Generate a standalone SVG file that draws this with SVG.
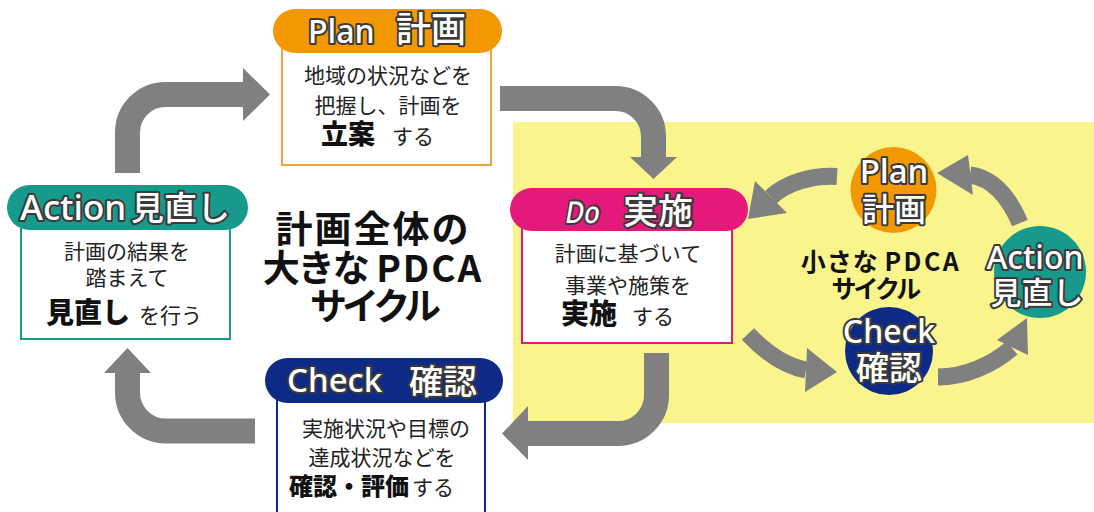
<svg xmlns="http://www.w3.org/2000/svg" width="1094" height="512" viewBox="0 0 1094 512">
<style>
.arrow{fill:none;stroke:#808080;stroke-width:25}
.sarrow{fill:none;stroke:#808080;stroke-width:17}
.head{fill:#808080}
.ol{font-family:"Noto Sans","Noto Sans CJK JP",sans-serif;font-weight:500;fill:#fff;stroke:#3a3a3a;stroke-width:4;paint-order:stroke;stroke-linejoin:round}
.olc{font-family:"Noto Sans CJK JP",sans-serif;font-weight:500;fill:#fff;stroke:#3a3a3a;stroke-width:4;paint-order:stroke;stroke-linejoin:round}
.tx{font-family:"Noto Sans CJK JP",sans-serif;font-size:21px;fill:#222}
.b{font-family:"Noto Sans CJK JP",sans-serif;font-weight:900;fill:#111}
.title{font-family:"Noto Sans CJK JP",sans-serif;font-weight:bold;fill:#111;text-anchor:middle}
.box{fill:#fff;stroke-width:2}
</style>
<rect x="513" y="122" width="581" height="301" fill="#FAF48C"/>
<g id="connectors">
<path class="arrow" d="M127.5,173 V132.5 A38,38 0 0 1 165.5,94.5 H245"/>
<polygon class="head" points="243,68 270,94.5 243,121"/>
<path class="arrow" d="M500,98.5 H615.5 A38,38 0 0 1 653.5,136.5 V158"/>
<polygon class="head" points="630,157 677,157 653.5,179"/>
<path class="arrow" d="M656.5,353 V395 A38.5,38.5 0 0 1 618,433.5 H528"/>
<polygon class="head" points="528,406 502,433.5 528,460"/>
<path class="arrow" d="M255,431 H166 A38.5,38.5 0 0 1 127.5,392.5 V372"/>
<polygon class="head" points="104,373 151,373 127.5,348"/>
<path class="sarrow" d="M837,176.5 C812,175 786,183 771,197"/>
<polygon class="head" points="755,181 787,213 748,219"/>
<path class="sarrow" d="M1020,223 C1008,195 992,178 970,175"/>
<polygon class="head" points="968,155 973,195 937,173"/>
<path class="sarrow" d="M748,334 C765,352 785,366 806,370"/>
<polygon class="head" points="807,348 805,392 837,372"/>
<path class="sarrow" d="M938,377 C965,377 992,365 1012,348"/>
<polygon class="head" points="997,340 1028,355 1027,318"/>
</g>
<g id="plan">
<rect class="box" x="282" y="30" width="209" height="135" stroke="#F0A23C"/>
<rect x="273" y="9" width="229" height="44" rx="22" fill="#F39800"/>
<text class="ol" x="308" y="43" font-size="32">Plan</text>
<text class="olc" x="396" y="42" font-size="35">計画</text>
<text class="tx" x="388" y="83" text-anchor="middle">地域の状況などを</text>
<text class="tx" x="388" y="113" text-anchor="middle">把握し、計画を</text>
<text class="b" x="321" y="144" font-size="27">立案</text>
<text class="tx" x="392" y="144" font-size="20">する</text>
</g>
<g id="action">
<rect class="box" x="21" y="207" width="209" height="132" stroke="#17998C"/>
<rect x="7" y="185" width="241" height="45" rx="22.5" fill="#17998C"/>
<text class="ol" x="20" y="220" font-size="35">Action</text>
<text class="olc" x="131" y="220" font-size="33">見直し</text>
<text class="tx" x="127" y="259" text-anchor="middle">計画の結果を</text>
<text class="tx" x="127" y="285" text-anchor="middle">踏まえて</text>
<text class="b" x="46" y="323" font-size="28">見直し</text>
<text class="tx" x="139" y="323" font-size="20">を行う</text>
</g>
<g id="do">
<rect class="box" x="522" y="210" width="210" height="133" stroke="#E5187C"/>
<rect x="510" y="188" width="238" height="43" rx="21.5" fill="#E5187C"/>
<text class="ol" x="0" y="0" font-size="30" transform="translate(564,223) skewX(-10) scale(0.85,1)">Do</text>
<text class="olc" x="623" y="224" font-size="35">実施</text>
<text class="tx" x="628" y="261" text-anchor="middle">計画に基づいて</text>
<text class="tx" x="628" y="293" text-anchor="middle">事業や施策を</text>
<text class="b" x="561" y="324" font-size="28">実施</text>
<text class="tx" x="632" y="324" font-size="20">する</text>
</g>
<g id="check">
<rect class="box" x="277" y="380" width="208" height="140" stroke="#0E2A87"/>
<rect x="265" y="358" width="238" height="45" rx="22.5" fill="#0E2A87"/>
<text class="ol" x="287" y="392" font-size="33">Check</text>
<text class="olc" x="409" y="394" font-size="34">確認</text>
<text class="tx" x="386" y="436" text-anchor="middle" font-size="22">実施状況や目標の</text>
<text class="tx" x="382" y="465" text-anchor="middle" font-size="22">達成状況などを</text>
<text class="b" x="289" y="495" font-size="24">確認・評価</text>
<text class="tx" x="412" y="495" font-size="20">する</text>
</g>
<g id="big-title">
<text class="title" x="373" y="243" font-size="37" letter-spacing="2">計画全体の</text>
<text class="title" x="373" y="282" font-size="37"><tspan letter-spacing="-2">大きな</tspan> <tspan letter-spacing="2">PDCA</tspan></text>
<text class="title" x="373" y="320" font-size="37" letter-spacing="-5">サイクル</text>
</g>
<g id="small-plan">
<circle cx="893.5" cy="190" r="43" fill="#F39800"/>
<text class="ol" x="894" y="183" font-size="33" text-anchor="middle">Plan</text>
<text class="olc" x="894" y="221" font-size="32" text-anchor="middle">計画</text>
</g>
<g id="small-check">
<circle cx="889" cy="351" r="44" fill="#0E2A87"/>
<text class="ol" x="889" y="343" font-size="32" text-anchor="middle">Check</text>
<text class="olc" x="889" y="380" font-size="33" text-anchor="middle">確認</text>
</g>
<g id="small-action">
<circle cx="1040" cy="272" r="46" fill="#17998C"/>
<text class="ol" x="1035" y="269" font-size="32" text-anchor="middle">Action</text>
<text class="olc" x="1037" y="304" font-size="31" text-anchor="middle">見直し</text>
</g>
<g id="small-title">
<text class="title" x="881" y="271" font-size="25"><tspan letter-spacing="1">小さな</tspan> <tspan letter-spacing="2.5">PDCA</tspan></text>
<text class="title" x="875" y="298" font-size="25" letter-spacing="-3">サイクル</text>
</g>
</svg>
